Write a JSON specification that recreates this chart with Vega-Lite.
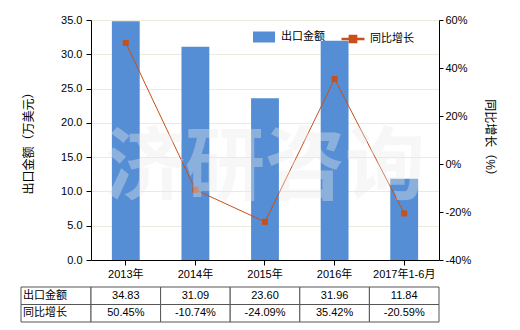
{
  "$schema": "https://vega.github.io/schema/vega-lite/v6.json",
  "padding": {"left": 20, "top": 14, "right": 5, "bottom": 5},
  "columns": 2,
  "spacing": {"row": 27, "column": 0},
  "bounds": "flush",
  "config": {
    "view": {"stroke": null},
    "font": "Liberation Sans, Noto Sans CJK SC",
    "axis": {"domainColor": "#000000", "tickColor": "#000000", "labelColor": "#000000", "titleColor": "#000000", "labelFontSize": 11, "titleFontSize": 12, "titleFontWeight": "normal"},
    "legend": {"labelFontSize": 11, "labelColor": "#000000", "padding": 0}
  },
  "datasets": {
    "main": [
      {"year": "2013年", "amount": 34.83, "growth": 50.45},
      {"year": "2014年", "amount": 31.09, "growth": -10.74},
      {"year": "2015年", "amount": 23.60, "growth": -24.09},
      {"year": "2016年", "amount": 31.96, "growth": 35.42},
      {"year": "2017年1-6月", "amount": 11.84, "growth": -20.59}
    ],
    "table": [
      {"year": "2013年", "row": "出口金额", "v": "34.83"},
      {"year": "2013年", "row": "同比增长", "v": "50.45%"},
      {"year": "2014年", "row": "出口金额", "v": "31.09"},
      {"year": "2014年", "row": "同比增长", "v": "-10.74%"},
      {"year": "2015年", "row": "出口金额", "v": "23.60"},
      {"year": "2015年", "row": "同比增长", "v": "-24.09%"},
      {"year": "2016年", "row": "出口金额", "v": "31.96"},
      {"year": "2016年", "row": "同比增长", "v": "35.42%"},
      {"year": "2017年1-6月", "row": "出口金额", "v": "11.84"},
      {"year": "2017年1-6月", "row": "同比增长", "v": "-20.59%"}
    ]
  },
  "concat": [
    {
      "width": 70, "height": 240,
      "data": {"values": [{"a": 1}]},
      "mark": {"type": "point", "opacity": 0}
    },
    {
      "width": 348, "height": 240,
      "data": {"name": "main"},
      "layer": [
        {
          "mark": {"type": "bar"},
          "encoding": {
            "x": {"field": "year", "type": "nominal", "sort": null,
                  "scale": {"paddingInner": 0.6, "paddingOuter": 0.3},
                  "axis": {"title": null, "labelAngle": 0, "tickSize": 5, "labelPadding": 3}},
            "y": {"field": "amount", "type": "quantitative", "scale": {"domain": [0, 35]},
                  "axis": {"title": "出口金额（万美元）", "values": [0, 5, 10, 15, 20, 25, 30, 35], "format": ".1f", "tickSize": 5, "labelPadding": 4, "titlePadding": 25, "grid": true, "gridColor": "#EBEBDD"}},
            "fill": {"datum": "出口金额", "type": "nominal", "scale": {"range": ["#558ED5"]},
                     "legend": {"title": null, "orient": "none", "legendX": 232, "legendY": 6, "symbolType": "M-1,-0.5H1V0.5H-1Z", "symbolSize": 484, "symbolStrokeWidth": 0, "labelOffset": 6}}
          }
        },
        {
          "layer": [
            {
              "mark": {"type": "line", "strokeWidth": 1},
              "encoding": {
                "x": {"field": "year", "type": "nominal", "sort": null},
                "y": {"field": "growth", "type": "quantitative", "scale": {"domain": [-40, 60]},
                      "axis": {"title": "同比增长（%）", "orient": "right", "values": [-40, -20, 0, 20, 40, 60], "labelExpr": "datum.value + '%'", "grid": false, "tickSize": 4, "labelPadding": 2, "titlePadding": 12}},
                "stroke": {"datum": "同比增长", "type": "nominal", "scale": {"range": ["#C8501A"]},
                           "legend": {"title": null, "orient": "none", "legendX": 319, "legendY": 6, "symbolType": "M-1,0H1M-0.27,-0.27H0.27V0.27H-0.27Z", "symbolSize": 529, "symbolStrokeWidth": 2.5, "symbolFillColor": "#C8501A", "labelOffset": 4}}
              }
            },
            {
              "mark": {"type": "point", "shape": "square", "filled": true, "size": 36, "color": "#C8501A", "opacity": 1},
              "encoding": {
                "x": {"field": "year", "type": "nominal", "sort": null},
                "y": {"field": "growth", "type": "quantitative"}
              }
            },
            {
              "data": {"values": [{"wm": "济研咨询"}]},
              "mark": {"type": "text", "fontSize": 80, "fontWeight": "bold", "color": "#EAEAEA", "opacity": 0.37, "font": "Noto Sans CJK SC"},
              "encoding": {
                "text": {"field": "wm"},
                "y": {"datum": -2, "type": "quantitative"}
              }
            }
          ]
        }
      ],
      "resolve": {"scale": {"y": "independent"}}
    },
    {
      "width": 70, "height": 35,
      "data": {"values": [{"c": "h", "row": "出口金额"}, {"c": "h", "row": "同比增长"}]},
      "layer": [
        {
          "mark": {"type": "rect", "fill": "#ffffff", "stroke": "#555555", "strokeWidth": 1},
          "encoding": {
            "x": {"field": "c", "type": "nominal", "axis": null, "scale": {"paddingInner": 0, "paddingOuter": 0}},
            "y": {"field": "row", "type": "nominal", "axis": null, "scale": {"domain": ["出口金额", "同比增长"], "paddingInner": 0, "paddingOuter": 0}}
          }
        },
        {
          "mark": {"type": "text", "align": "left", "dx": 2, "fontSize": 11, "color": "#000000"},
          "encoding": {
            "x": {"field": "c", "type": "nominal", "bandPosition": 0},
            "y": {"field": "row", "type": "nominal"},
            "text": {"field": "row"}
          }
        }
      ]
    },
    {
      "width": 348, "height": 35,
      "data": {"name": "table"},
      "layer": [
        {
          "mark": {"type": "rect", "fill": "#ffffff", "stroke": "#555555", "strokeWidth": 1},
          "encoding": {
            "x": {"field": "year", "type": "nominal", "sort": null, "axis": null, "scale": {"paddingInner": 0, "paddingOuter": 0}},
            "y": {"field": "row", "type": "nominal", "axis": null, "scale": {"domain": ["出口金额", "同比增长"], "paddingInner": 0, "paddingOuter": 0}}
          }
        },
        {
          "mark": {"type": "text", "fontSize": 11, "color": "#000000"},
          "encoding": {
            "x": {"field": "year", "type": "nominal", "sort": null},
            "y": {"field": "row", "type": "nominal"},
            "text": {"field": "v"}
          }
        }
      ]
    }
  ]
}
